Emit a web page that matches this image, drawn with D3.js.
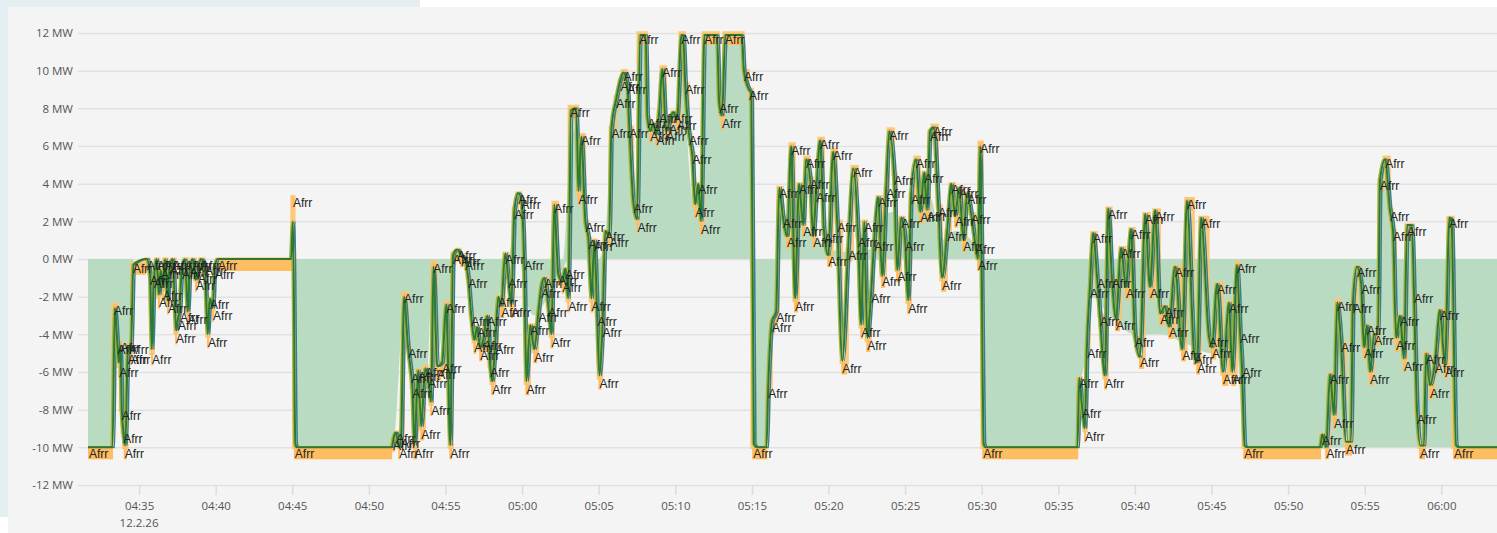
<!DOCTYPE html>
<html>
<head>
<meta charset="utf-8">
<style>
  body { margin: 0; background: #ffffff; }
  svg { display: block; }
</style>
</head>
<body>
<div id="chart"></div>
<script src="https://cdnjs.cloudflare.com/ajax/libs/d3/7.8.5/d3.min.js"></script>
<script>
// seconds after 04:30:00 on 12.2.26, value in MW
var afrrSteps = [
  [100,-10],[198,-2.4],[212,-4.5],[218,-5.7],[224,-4.4],[228,-8],[234,-9.2],[240,-10],[252,-5],[258,-4.5],[264,-5],
  [272,-0.2],[327,0],[339,-0.8],[347,-5],[355,-1],[366,0],[374,-2],[382,-0.5],[390,-1.6],[398,0],[409,-2.3],[417,-0.3],
  [429,0],[441,-3.9],[449,-3.2],[456,-2.8],[464,-0.5],[476,0],[488,-2.9],[496,-0.4],[507,0],[519,-1.1],[527,-0.7],
  [539,0],[554,-0.3],[566,-4.1],[574,-2.1],[586,-2.7],[593,-0.5],[605,0],[899,3.3],[906,-10],
  [1291,-9.6],[1303,-9.2],[1315,-10],[1322,-9.5],[1334,-1.8],[1350,-4.7],[1362,-6],[1366,-6.8],[1374,-10],[1389,-5.9],
  [1401,-9],[1417,-5.7],[1428,-6.3],[1440,-7.7],[1448,-0.2],[1464,-5.8],[1483,-5.5],[1499,-2.3],[1515,-10],[1526,0.3],
  [1542,0.5],[1558,0.2],[1573,0],[1585,-1],[1597,-3],[1609,-4.4],[1620,-3.6],[1632,-4.8],[1644,-4.3],[1660,-3],
  [1671,-5.7],[1679,-6.6],[1691,-4.5],[1703,-2],[1714,-2.5],[1730,0.3],[1742,-1],[1754,-2.5],[1766,2.7],[1781,3.5],
  [1793,3.2],[1805,0],[1813,-6.6],[1828,-3.5],[1844,-4.9],[1860,-2.8],[1871,-1.5],[1883,-1],[1899,-2.5],[1911,-4.1],
  [1922,3],[1938,-0.8],[1954,-1.2],[1965,-0.5],[1977,-2.2],[1985,8.1],[2017,3.5],[2028,6.6],[2044,2],[2056,1.1],
  [2068,-2.2],[2079,1],[2091,-3],[2099,-6.3],[2111,-3.6],[2122,1.5],[2138,1.2],[2146,7],[2165,8.6],[2181,9.5],
  [2193,10],[2208,9.3],[2216,7],[2232,3],[2248,2],[2255,12],[2287,7.5],[2298,6.8],[2310,7.2],[2322,6.6],[2333,7.8],
  [2345,10.2],[2361,6.8],[2372,7.2],[2388,7.8],[2403,7.4],[2419,12],[2435,9.3],[2450,6.6],[2462,5.6],[2474,2.8],
  [2486,4],[2497,1.9],[2509,12],[2568,8.3],[2579,7.5],[2591,12],[2665,10],[2685,9],[2701,-10],[2760,-6.8],[2775,-3.3],
  [2791,-2.8],[2803,3.8],[2818,2.2],[2834,1.2],[2850,6.1],[2865,-2.2],[2881,4],[2897,1.8],[2908,5.4],[2924,4.3],
  [2936,1.2],[2948,3.6],[2963,6.4],[2979,1.4],[2995,0.2],[3014,5.8],[3030,2],[3050,-5.5],[3073,0.5],[3093,4.9],
  [3112,1.2],[3124,-3.6],[3136,2],[3148,-4.3],[3163,-1.8],[3175,1],[3191,3.3],[3206,-0.9],[3222,3.8],[3234,6.9],
  [3253,4.5],[3265,-0.6],[3281,2.2],[3296,1],[3308,-2.3],[3320,3.5],[3339,5.4],[3355,2.5],[3371,4.6],[3382,2.6],
  [3394,6.8],[3406,7.1],[3426,2.8],[3441,-1.1],[3461,1.5],[3477,4],[3492,2.3],[3508,3.8],[3524,1],[3539,3.5],
  [3555,2.4],[3571,0.8],[3582,0],[3590,6.2],[3602,-10],[3978,-6.3],[3989,-7.9],[4001,-9.1],[4009,-4.7],[4020,-1.5],
  [4032,1.4],[4048,-1],[4059,-3],[4079,-6.3],[4091,2.7],[4106,-1],[4122,-3.2],[4142,0.6],[4161,-1.5],[4181,1.6],
  [4196,-4.1],[4216,-5.2],[4236,2.4],[4255,-1.5],[4275,2.6],[4295,-2.9],[4314,-2.5],[4330,-3.6],[4353,-0.4],
  [4381,-4.8],[4400,3.2],[4428,-5],[4440,-5.5],[4455,2.2],[4486,-4.1],[4498,-4.7],[4518,-1.3],[4541,-6.1],
  [4565,-2.3],[4577,-6.1],[4596,-0.2],[4608,-3.9],[4616,-5.7],[4624,-10],[4929,-9.3],[4945,-10],[4960,-6.1],
  [4976,-8.4],[4988,-2.2],[5003,-4.4],[5023,-9.8],[5050,-2.3],[5066,-0.4],[5082,-1.3],[5093,-4.7],[5105,-3.5],
  [5117,-6.1],[5133,-4],[5156,4.2],[5176,5.4],[5195,2.6],[5207,1.5],[5219,-4.3],[5234,-3],[5250,-5.4],[5262,1.8],
  [5289,-1.8],[5301,-8.2],[5313,-10],[5336,-5],[5352,-6.8],[5371,-5.5],[5391,-2.7],[5410,-5.7],[5426,2.2],[5446,-10]
]

var powerPoints = [
  [100,-10],[196,-10],[205,-2.6],[215,-4.4],[221,-5.5],[227,-4.6],[232,-7.8],[238,-9.1],[246,-9.9],[256,-5],[262,-4.6],
  [268,-4.9],[278,-0.3],[330,0],[343,-0.8],[350,-4.8],[358,-1.1],[369,0],[378,-1.9],[385,-0.6],[393,-1.5],[402,0],
  [412,-2.2],[420,-0.4],[432,0],[445,-3.8],[452,-3.2],[459,-2.7],[467,-0.6],[480,0],[491,-2.8],[499,-0.5],[510,0],
  [522,-1.1],[530,-0.7],[542,0],[557,-0.3],[569,-4],[577,-2.1],[589,-2.6],[596,-0.5],[608,0],[895,0],[903,2],
  [912,-9.8],[918,-10],[1290,-10],[1297,-9.5],[1306,-9.2],[1318,-10],[1326,-9.5],[1338,-2],[1353,-4.6],[1365,-6],
  [1370,-6.7],[1379,-9.9],[1393,-5.9],[1405,-8.9],[1421,-5.8],[1432,-6.3],[1444,-7.6],[1453,-0.4],[1468,-5.7],
  [1487,-5.5],[1503,-2.4],[1519,-9.9],[1530,0.2],[1546,0.5],[1562,0.2],[1577,0],[1589,-1],[1601,-3],[1613,-4.3],
  [1624,-3.6],[1636,-4.7],[1648,-4.3],[1664,-3],[1675,-5.6],[1683,-6.5],[1695,-4.5],[1707,-2],[1718,-2.5],[1734,0.3],
  [1746,-1],[1758,-2.4],[1770,2.6],[1785,3.5],[1797,3.2],[1808,0],[1817,-6.5],[1832,-3.5],[1848,-4.8],[1864,-2.8],
  [1875,-1.5],[1887,-1],[1903,-2.5],[1915,-4],[1926,2.9],[1942,-0.8],[1958,-1.2],[1969,-0.5],[1981,-2.1],[1992,7.9],
  [2012,8],[2021,3.6],[2032,6.5],[2048,2],[2060,1.1],[2072,-2.1],[2083,1],[2094,-2.9],[2103,-6.2],[2115,-3.6],
  [2126,1.5],[2141,1.2],[2150,6.9],[2169,8.5],[2185,9.5],[2197,9.9],[2212,9.3],[2220,7],[2236,3],[2251,2.1],
  [2262,11.9],[2284,11.9],[2291,7.5],[2302,6.8],[2314,7.2],[2326,6.6],[2337,7.8],[2349,10.1],[2365,6.8],[2376,7.2],
  [2392,7.8],[2407,7.4],[2424,11.9],[2431,11.9],[2439,9.3],[2454,6.6],[2466,5.6],[2478,2.9],[2490,4],[2501,2],
  [2514,11.9],[2564,11.9],[2572,8.3],[2583,7.6],[2596,11.9],[2661,11.9],[2669,10],[2689,9],[2698,8.8],[2708,-9.8],
  [2720,-10],[2757,-10],[2764,-6.8],[2779,-3.3],[2795,-2.8],[2807,3.8],[2822,2.2],[2838,1.2],[2854,6],[2869,-2.1],
  [2885,4],[2901,1.8],[2912,5.3],[2928,4.3],[2940,1.2],[2952,3.6],[2967,6.3],[2983,1.4],[2999,0.2],[3018,5.7],
  [3034,2],[3054,-5.4],[3077,0.5],[3097,4.8],[3116,1.2],[3128,-3.5],[3140,2],[3152,-4.2],[3167,-1.8],[3179,1],
  [3195,3.3],[3210,-0.9],[3226,3.8],[3238,6.8],[3257,4.5],[3269,-0.6],[3285,2.2],[3300,1],[3312,-2.2],[3324,3.5],
  [3343,5.3],[3359,2.5],[3375,4.6],[3386,2.6],[3398,6.8],[3412,7],[3430,2.8],[3445,-1],[3465,1.5],[3481,4],
  [3496,2.3],[3512,3.8],[3528,1],[3543,3.5],[3559,2.4],[3575,0.8],[3586,0],[3594,6],[3608,-9.8],[3615,-10],
  [3975,-10],[3982,-6.3],[3993,-7.8],[4004,-9],[4012,-4.7],[4024,-1.5],[4036,1.4],[4052,-1],[4063,-3],[4083,-6.2],
  [4095,2.7],[4110,-1],[4126,-3.2],[4146,0.6],[4165,-1.5],[4185,1.6],[4200,-4],[4220,-5.2],[4240,2.4],[4259,-1.5],
  [4279,2.6],[4299,-2.9],[4318,-2.5],[4334,-3.6],[4357,-0.4],[4385,-4.8],[4404,3.1],[4432,-5],[4444,-5.5],[4459,2.2],
  [4490,-4.1],[4502,-4.7],[4522,-1.3],[4545,-6],[4569,-2.3],[4581,-6],[4600,-0.3],[4612,-3.9],[4619,-5.6],[4630,-9.9],
  [4640,-10],[4925,-10],[4934,-9.3],[4949,-10],[4964,-6.1],[4980,-8.3],[4992,-2.3],[5007,-4.4],[5027,-9.7],
  [5046,-9.7],[5054,-2.3],[5070,-0.4],[5086,-1.3],[5097,-4.7],[5109,-3.5],[5121,-6],[5137,-4],[5152,-4],[5160,4.2],
  [5180,5.3],[5199,2.6],[5211,1.5],[5223,-4.2],[5238,-3],[5254,-5.3],[5266,1.8],[5285,1.8],[5293,-1.8],[5305,-8.1],
  [5318,-9.9],[5332,-9.9],[5340,-5],[5356,-6.7],[5375,-5.5],[5395,-2.7],[5414,-5.6],[5432,2.2],[5440,2],[5458,-9.9],
  [5470,-10],[5618,-10]
]

// green band: [sec, low MW, high MW]
var fillBand = [
  [100,-10,0],[196,-10,0],[205,-3,0],[222,-5.5,0],[238,-9,0],[250,-8,0],[262,-4.5,0],[278,0,0],[895,0,0],[903,0,2],
  [912,-10,0],[1292,-10,0],[1300,-9.5,0],[1338,-2.5,0],[1360,-5,0],[1380,-8,0],[1400,-7,0],[1430,-6,0],[1448,-1,0],
  [1470,-5,0],[1500,-3,0],[1518,-9,0],[1528,0,0],[1580,0,0],[1600,-2.5,0],[1640,-3.5,0],[1680,-4.5,0],[1710,-2,0],
  [1740,0,0],[1790,0,2.5],[1810,-2,0],[1850,-3,0],[1900,-2,0],[1960,-0.5,0],[1985,0,5],[2010,0,7],[2020,0,3.5],
  [2035,0,6],[2050,0,2],[2070,-1,0],[2100,-4,0],[2125,0,1.2],[2150,0,6],[2180,0,9],[2200,0,9.5],[2215,0,7],
  [2240,0,2.5],[2262,0,11.9],[2284,0,11.9],[2295,0,7],[2340,0,7],[2350,0,9.5],[2365,0,7],[2410,0,7.3],[2425,0,11.9],
  [2432,0,11.5],[2440,0,8.5],[2470,0,3],[2500,0,2],[2514,0,11.9],[2564,0,11.9],[2575,0,8],[2596,0,11.9],[2661,0,11.9],
  [2670,0,10],[2690,0,8.8],[2708,-9.5,0],[2720,-10,0],[2757,-10,0],[2770,-6,0],[2790,-3,0],[2805,0,2.5],[2830,0,1.5],
  [2860,0,2],[2900,0,1.8],[2950,0,1.2],[3000,0,0.5],[3050,0,0.4],[3120,0,0.3],[3160,0,0.5],[3200,0,2],[3250,0,2.5],
  [3300,0,1.5],[3340,0,3],[3400,0,3.2],[3440,0,1],[3500,0,1.5],[3560,0,1],[3590,0,0.5],[3600,-9,0],[3610,-10,0],
  [3975,-10,0],[3985,-7,0],[4010,-5,0],[4030,-2,0],[4100,-3,0],[4200,-4,0],[4300,-4,0],[4400,-4.5,0],[4500,-5,0],
  [4600,-5,0],[4622,-9.5,0],[4630,-10,0],[4925,-10,0],[4935,-9.8,0],[4945,-10,0],[5150,-10,0],[5160,-10,4],
  [5180,-10,5],[5200,-10,2.5],[5215,-10,0],[5260,-10,0],[5266,-10,1.8],[5285,-10,1.8],[5292,-10,0],[5424,-10,0],
  [5432,-10,2.2],[5440,-10,2],[5450,-10,0],[5618,-10,0]
]

var yTicks = [-12, -10, -8, -6, -4, -2, 0, 2, 4, 6, 8, 10, 12]
var dateLabel = "12.2.26"
var stepLabel = "Afrr"
var endSec = 5618

var W = 1497, H = 533
var base = new Date(2026, 1, 12, 4, 30, 0)
function t(s) { return new Date(base.getTime() + s * 1000) }

var svg = d3.select("#chart").append("svg")
  .attr("width", W).attr("height", H)

// page background + panel
svg.append("rect").attr("x", 0).attr("y", 0).attr("width", 420).attr("height", 517).attr("fill", "#e4edf0")
svg.append("rect").attr("x", 8).attr("y", 7).attr("width", W - 8).attr("height", H - 7).attr("fill", "#f4f4f4")

var x = d3.scaleTime().domain([t(100), t(endSec)]).range([88, 1497])
var y = d3.scaleLinear().domain([-12, 12]).range([485, 33])

// y grid + labels
var yAxis = svg.append("g")
  .attr("transform", "translate(78,0)")
  .call(d3.axisLeft(y).tickValues(yTicks).tickSize(-(W - 78)).tickPadding(5)
    .tickFormat(function(d){ return d + " MW" }))
yAxis.select(".domain").remove()
yAxis.selectAll("line").attr("stroke", "#e1e1e1").attr("stroke-width", 1.5)
yAxis.selectAll("text").attr("fill", "#555").style("font", "11.5px 'Open Sans', sans-serif")

// x axis
var xAxis = svg.append("g")
  .attr("transform", "translate(0,485)")
  .call(d3.axisBottom(x).ticks(d3.timeMinute.every(5)).tickSize(10).tickPadding(7)
    .tickFormat(d3.timeFormat("%H:%M")))
xAxis.select(".domain").remove()
xAxis.selectAll("line").attr("stroke", "#dcdcdc").attr("stroke-width", 1.5)
xAxis.selectAll("text").attr("fill", "#555").style("font", "11.5px 'Open Sans', sans-serif")

svg.append("text")
  .attr("x", x(t(300))).attr("y", 527)
  .attr("text-anchor", "middle")
  .attr("fill", "#555")
  .style("font", "11.5px 'Open Sans', sans-serif")
  .text(dateLabel)

svg.append("clipPath").attr("id", "plot")
  .append("rect").attr("x", 88).attr("y", 20).attr("width", W - 88).attr("height", 470)

var plot = svg.append("g").attr("clip-path", "url(#plot)")

// green band
var area = d3.area()
  .x(function(d){ return x(t(d[0])) })
  .y0(function(d){ return y(d[1]) })
  .y1(function(d){ return y(d[2]) })
  .curve(d3.curveMonotoneX)
plot.append("path").datum(fillBand)
  .attr("d", area)
  .attr("fill", "#b8dbc1")

// afrr setpoint step line
var stepData = afrrSteps.concat([[endSec, afrrSteps[afrrSteps.length - 1][1]]])
var stepLine = d3.line()
  .x(function(d){ return x(t(d[0])) })
  .y(function(d){ return y(d[1]) })
  .curve(d3.curveStepAfter)
plot.append("path").datum(stepData)
  .attr("d", stepLine)
  .attr("fill", "none")
  .attr("stroke", "#ffc46e")
  .attr("stroke-width", 3.5)
  .attr("opacity", 0.9)

// label boxes under each step
plot.selectAll("rect.box").data(afrrSteps).enter().append("rect")
  .attr("class", "box")
  .attr("x", function(d){ return x(t(d[0])) })
  .attr("y", function(d){ return y(d[1]) })
  .attr("width", function(d, i){
    var next = i < afrrSteps.length - 1 ? afrrSteps[i + 1][0] : endSec
    return Math.max(2, x(t(next)) - x(t(d[0])))
  })
  .attr("height", 12)
  .attr("fill", "#ffbd61")

// measured power lines
var powerLine = d3.line()
  .x(function(d){ return x(t(d[0])) })
  .y(function(d){ return y(d[1]) })
  .curve(d3.curveMonotoneX)

plot.append("path").datum(powerPoints)
  .attr("d", powerLine)
  .attr("transform", "translate(2,0)")
  .attr("fill", "none")
  .attr("stroke", "#3a7d8c")
  .attr("stroke-width", 1.5)

plot.append("path").datum(powerPoints)
  .attr("d", powerLine)
  .attr("transform", "translate(-1.5,0)")
  .attr("fill", "none")
  .attr("stroke", "#a3b53c")
  .attr("stroke-width", 1.5)

plot.append("path").datum(powerPoints)
  .attr("d", powerLine)
  .attr("fill", "none")
  .attr("stroke", "#2a7a36")
  .attr("stroke-width", 2)

// labels
plot.selectAll("text.lbl").data(afrrSteps).enter().append("text")
  .attr("class", "lbl")
  .attr("x", function(d){ return x(t(d[0])) + 1 })
  .attr("y", function(d){ return y(d[1]) + 10.5 })
  .attr("fill", "#222")
  .style("font", "12px 'Liberation Sans', Arial, sans-serif")
  .text(stepLabel)
</script>
</body>
</html>
